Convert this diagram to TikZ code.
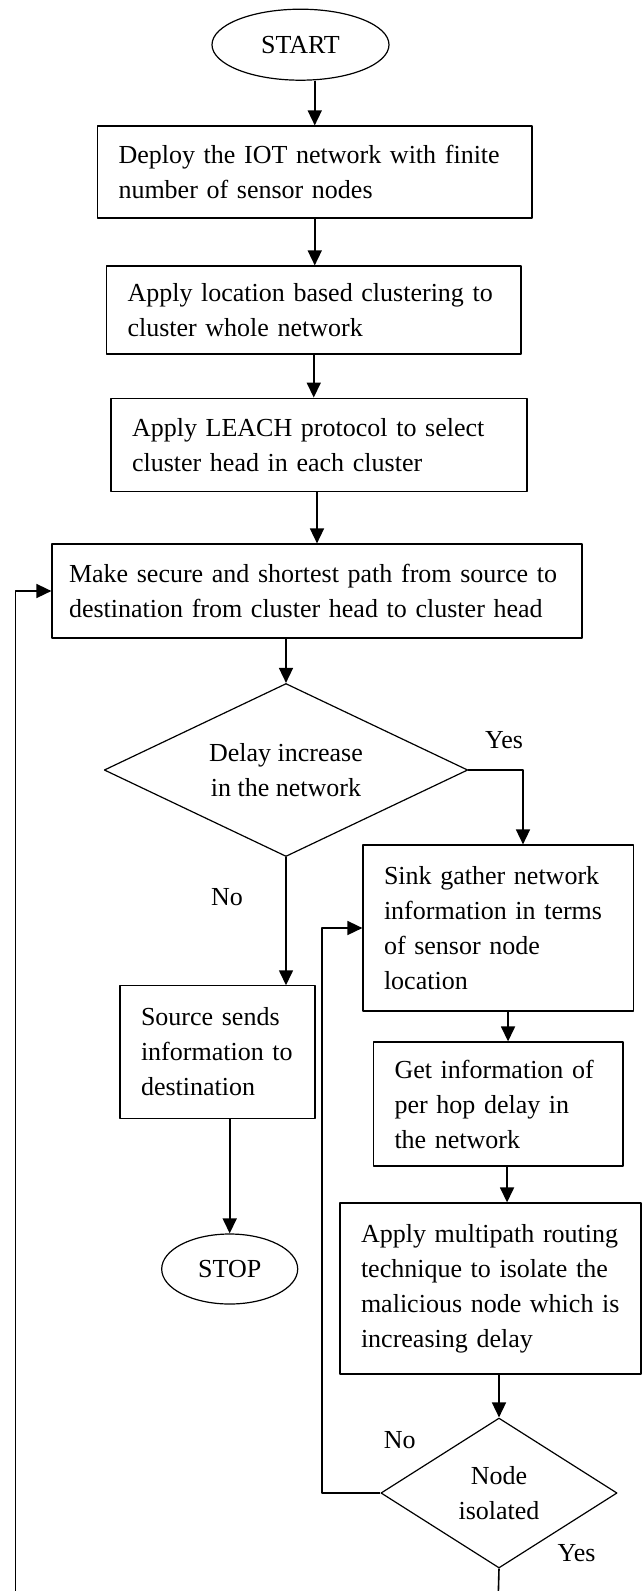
\documentclass[tikz,border=0pt]{standalone}
\usepackage{fontspec}
\setmainfont{Liberation Serif}
\usetikzlibrary{shapes.geometric,arrows.meta}

\begin{document}
\begin{tikzpicture}[
    x = 0.5pt, y = -0.5pt,
    line join=round,
    txt/.style = {font=\fontsize{13}{17.5}\selectfont},
    process/.style = {txt, draw, line width=0.6pt, align=left, inner xsep=10.5pt, inner ysep=2pt},
    decision/.style = {txt, draw, line width=0.6pt, diamond, align=center, inner sep=0pt},
    terminal/.style = {txt, draw, line width=0.6pt, ellipse, inner sep=0pt},
    arrow/.style = {line width=0.8pt, -{Triangle[length=7.5pt, width=7pt]}},
    link/.style = {line width=0.8pt}
]
    \useasboundingbox (0,0) rectangle (642,1591);

    % main column
    \node[terminal, minimum width=88.5pt, minimum height=35.5pt] (start) at (300.5,44.7) {START};
    \node[process, text width=196.25pt, minimum height=46pt] (deploy) at (314.75,172)
        {Deploy the IOT network with finite\\number of sensor nodes};
    \node[process, text width=186.25pt, minimum height=44pt] (cluster) at (313.75,310)
        {Apply location based clustering to\\cluster whole network};
    \node[process, text width=187pt, minimum height=46.85pt] (leach) at (319,445)
        {Apply LEACH protocol to select\\cluster head in each cluster};
    \node[process, inner xsep=8.5pt, text width=248pt, minimum height=47pt] (path) at (317,591)
        {Make secure and shortest path from source to\\destination from cluster head to cluster head};
    \node[decision, minimum width=181.8pt, minimum height=86.5pt, aspect=2.1] (delay) at (286,770)
        {Delay increase\\in the network};

    % no branch
    \node[process, text width=76.5pt, minimum height=66.15pt] (source) at (217.5,1052)
        {Source sends\\information to\\destination};
    \node[terminal, minimum width=68pt, minimum height=35pt] (stop) at (229.7,1269) {STOP};

    % yes branch
    \node[process, text width=114.25pt, minimum height=83pt] (sink) at (498.25,928)
        {Sink gather network\\information in terms\\of sensor node\\location};
    \node[process, text width=103.75pt, minimum height=62pt] (hop) at (498.25,1104)
        {Get information of\\per hop delay in\\the network};
    \node[process, text width=129.5pt, minimum height=85.5pt] (multi) at (490.5,1288.5)
        {Apply multipath routing\\technique to isolate the\\malicious node which is\\increasing delay};
    \node[decision, minimum width=118.1pt, minimum height=75pt, aspect=1.57] (isol) at (499,1493)
        {Node\\isolated};

    % labels
    \node[txt] (yes1) at (504,740) {Yes};
    \node[txt] (no1) at (227,897) {No};
    \node[txt] (no2) at (399.7,1440) {No};
    \node[txt] (yes2) at (576.5,1553) {Yes};

    \coordinate (yesturn) at (523,770);
    \coordinate (noturn) at (322,1493);
    \coordinate (yesend) at (498.4,1591);
    \coordinate (loopend) at (15.5,1591);

    \draw[arrow] (start.south -| deploy.north) -- (deploy.north);
    \draw[arrow] (deploy.south) -- (deploy.south |- cluster.north);
    \draw[arrow] (cluster.south) -- (cluster.south |- leach.north);
    \draw[arrow] (path.north |- leach.south) -- (path.north);
    \draw[arrow] (delay.north |- path.south) -- (delay.north);

    \draw[arrow] (delay.east) -- (yesturn) -- (yesturn |- sink.north);
    \draw[arrow] (delay.south) -- (delay.south |- source.north);
    \draw[arrow] (stop.north |- source.south) -- (stop.north);

    \draw[arrow] ([xshift=4.9pt]sink.south) -- ([xshift=4.9pt]sink.south |- hop.north);
    \draw[arrow] ([xshift=4.4pt]hop.south) -- ([xshift=4.4pt]hop.south |- multi.north);
    \draw[arrow] (isol.north |- multi.south) -- (isol.north);

    \draw[arrow] (isol.west) -- (noturn) |- (sink.west);
    \draw[link] (isol.south) -- (yesend);
    \draw[arrow] (loopend) |- (path.west);

\end{tikzpicture}
\end{document}
